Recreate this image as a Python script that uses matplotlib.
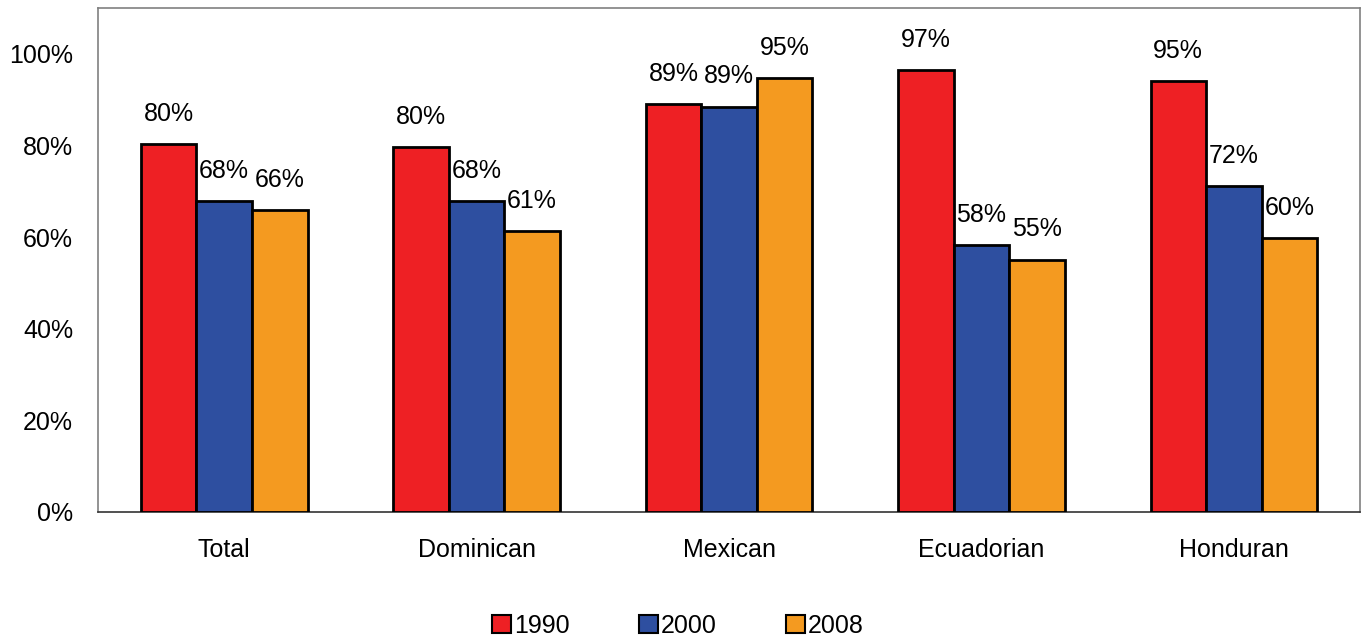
import matplotlib
matplotlib.use("Agg")
from matplotlib import pyplot as plt
import numpy as np

plt.rcParams['font.family'] = ['Liberation Sans', 'DejaVu Sans']

# share by group and year
groups = ["Total", "Dominican", "Mexican", "Ecuadorian", "Honduran"]
years = ["1990", "2000", "2008"]
v1990 = [0.804, 0.797, 0.891, 0.965, 0.941]
v2000 = [0.678, 0.678, 0.885, 0.582, 0.712]
v2008 = [0.660, 0.614, 0.948, 0.551, 0.597]
labels1990 = ["80%", "80%", "89%", "97%", "95%"]
labels2000 = ["68%", "68%", "89%", "58%", "72%"]
labels2008 = ["66%", "61%", "95%", "55%", "60%"]

colors = ["#EE2024", "#2E4FA0", "#F49A20"]

fig = plt.figure(figsize=(13.67, 6.36), dpi=100)
ax = fig.add_axes([0.0717, 0.195, 0.9232, 0.7924])

x = np.arange(len(groups))
w = 0.22
series = [v1990, v2000, v2008]
texts = [labels1990, labels2000, labels2008]
for i, (vals, labs) in enumerate(zip(series, texts)):
    bars = ax.bar(x + (i - 1) * w, vals, w, color=colors[i], edgecolor="black",
                  linewidth=2.0, label=years[i], zorder=3)
    for b, t in zip(bars, labs):
        ax.annotate(t, (b.get_x() + b.get_width() / 2, b.get_height()),
                    xytext=(0, 13), textcoords="offset points",
                    ha="center", va="bottom", fontsize=18)

ax.set_xlim(-0.5, 4.5)
ax.set_ylim(0, 1.1)
ax.set_yticks([0, 0.2, 0.4, 0.6, 0.8, 1.0])
ax.set_yticklabels(["0%", "20%", "40%", "60%", "80%", "100%"])
ax.set_xticks(x)
ax.set_xticklabels(groups)
ax.tick_params(axis="y", length=0, pad=18, labelsize=18)
ax.tick_params(axis="x", length=0, pad=19, labelsize=18)

for s in ["top", "right", "left"]:
    ax.spines[s].set_color("#808080")
    ax.spines[s].set_linewidth(1.2)
ax.spines["bottom"].set_color("#333333")
ax.spines["bottom"].set_linewidth(1.2)

leg = fig.legend(loc="lower center", bbox_to_anchor=(0.496, -0.038), ncol=3,
                 frameon=False, fontsize=18, handlelength=0.75, handleheight=0.75,
                 handletextpad=0.1, columnspacing=2.8)
for h in leg.legend_handles:
    h.set_linewidth(1.5)

fig.savefig("out.png", dpi=100)
